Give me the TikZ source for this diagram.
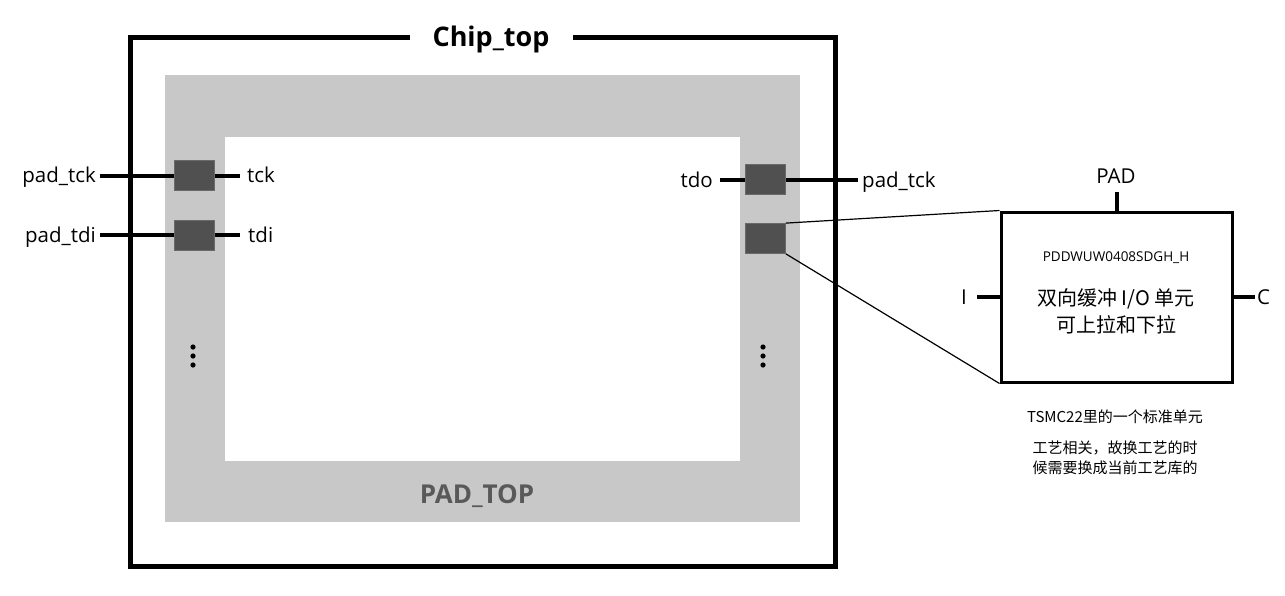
\documentclass[tikz,border=0pt]{standalone}
\usepackage{fontspec}
\setmainfont{Open Sans}
\newfontfamily\cjk{Noto Sans CJK SC}
\definecolor{padgray}{HTML}{C8C8C8}
\definecolor{boxgray}{HTML}{505050}
\definecolor{txtgray}{HTML}{595959}
\begin{document}
\begin{tikzpicture}[x=1pt,y=-1pt,
  padbox/.style={fill=boxgray,draw=boxgray!85!white,line width=0.8pt,inner sep=0pt,minimum width=40pt,minimum height=30pt},
  port/.style={line width=4pt},
  thinline/.style={line width=1.2pt},
  lbl/.style={font=\fontsize{20.5}{24}\selectfont,inner sep=0pt},
  celltxt/.style={font=\cjk\fontsize{20}{27}\selectfont,align=center,inner sep=0pt},
  note/.style={font=\cjk\fontsize{15}{20}\selectfont,align=center,inner sep=0pt}]
\useasboundingbox (0,0) rectangle (1285,595);
% pad ring
\fill[padgray] (165,75) rectangle (800,522);
\fill[white] (225,137) rectangle (740,461);
\node[font=\bfseries\fontsize{26}{30}\selectfont,text=txtgray,anchor=base] (padtop) at (477,503) {PAD\_TOP};
% chip outline with gap for title
\draw[line width=5pt] (410,37) -- (130,37) -- (130,566) -- (835,566) -- (835,37) -- (573,37);
\node[font=\bfseries\fontsize{27}{30}\selectfont,anchor=base] (title) at (491,46) {Chip\_top};
% left pads
\node[padbox] (L1) at (194.5,175.5) {};
\node[padbox] (L2) at (194.5,235) {};
\coordinate (pl1) at (100,175.5);
\coordinate (pl2) at (100,235);
\coordinate (cl1) at (240,175.5);
\coordinate (cl2) at (240,235);
\draw[port] (pl1) -- (L1.west);
\draw[port] (pl2) -- (L2.west);
\draw[port] (L1.east) -- (cl1);
\draw[port] (L2.east) -- (cl2);
\node[lbl,anchor=base east] (tpl1) at (96,182.5) {pad\_tck};
\node[lbl,anchor=base east] (tpl2) at (96,242) {pad\_tdi};
\node[lbl,anchor=base west] (tcl1) at (247,182.5) {tck};
\node[lbl,anchor=base west] (tcl2) at (248,242) {tdi};
% right pads
\node[padbox] (R1) at (765.5,179) {};
\node[padbox] (R2) at (765.5,238.5) {};
\coordinate (cr1) at (720,180);
\coordinate (pr1) at (858,180);
\draw[port] (cr1) -- (cr1 -| R1.west);
\draw[port] (R1.east |- pr1) -- (pr1);
\node[lbl,anchor=base east] (tcr1) at (713,187) {tdo};
\node[lbl,anchor=base west] (tpr1) at (862,187) {pad\_tck};
% dots
\foreach \yy in {347,356,365}{
  \fill (193,\yy) circle (2.6pt);
  \fill (763,\yy) circle (2.6pt);
}
% IO cell
\node[draw,line width=3pt,minimum width=231pt,minimum height=170pt,inner sep=0pt] (cell) at (1116.5,297) {};
\draw[thinline] (R2.north east) -- (cell.north west);
\draw[thinline] (R2.south east) -- (cell.south west);
\coordinate (padc) at (1116.5,192);
\coordinate (ic) at (977,297);
\coordinate (cc) at (1255,297);
\draw[port] (cell.north) -- (padc);
\draw[port] (cell.west) -- (ic);
\draw[port] (cell.east) -- (cc);
\node[lbl,anchor=base] (tpad) at (1116,183.5) {PAD};
\node[lbl,anchor=base east] (ti) at (967,304.5) {I};
\node[lbl,anchor=base west] (tc) at (1257,304.5) {C};
\node[font=\fontsize{13.5}{16}\selectfont] (cname) at (1116,258) {PDDWUW0408SDGH\_H};
\node[celltxt] (cdesc) at (1116,311) {双向缓冲 I/O 单元\\可上拉和下拉};
% notes
\node[note] (n1) at (1115,417) {TSMC22里的一个标准单元};
\node[note] (n2) at (1115,458) {工艺相关，故换工艺的时\\候需要换成当前工艺库的};
\end{tikzpicture}
\end{document}
